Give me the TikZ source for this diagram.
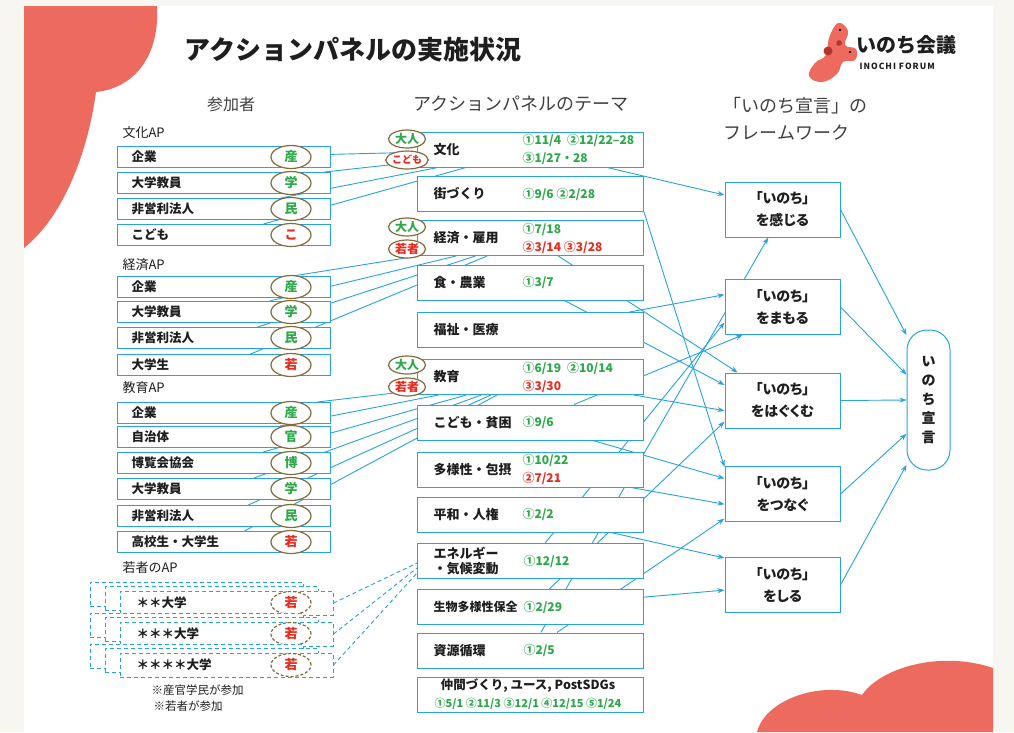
\documentclass[tikz,border=0pt]{standalone}
\usepackage{fontspec}
\setmainfont{Noto Sans CJK JP}
\newfontfamily\jpp{Noto Sans CJK JP}[RawFeature=+palt]
\usetikzlibrary{calc,arrows.meta,backgrounds,shapes.geometric}
\definecolor{wire}{HTML}{29A3DC}
\definecolor{grn}{HTML}{2EA84A}
\definecolor{rd}{HTML}{E82A1F}
\definecolor{tagline}{HTML}{826B3C}
\definecolor{coral}{HTML}{EC6A5E}
\definecolor{coraldk}{HTML}{B3362E}
\definecolor{paper}{HTML}{F7F6F1}
\definecolor{ink}{HTML}{1E1E1E}
\tikzset{
  pbox/.style={draw=wire, line width=1pt, fill=white, minimum width=213pt, minimum height=21pt, inner sep=0pt},
  ybox/.style={pbox, minimum height=24pt, dash pattern=on 4pt off 3pt},
  tag/.style={ellipse, draw=tagline, line width=1.2pt, fill=white, minimum width=40pt, minimum height=23pt, inner sep=0pt, font=\bfseries\fontsize{13}{13}\selectfont},
  who/.style={ellipse, draw=tagline, line width=1.2pt, fill=white, minimum width=37pt, minimum height=18pt, inner sep=0pt, font=\bfseries\fontsize{12}{12}\selectfont},
  theme/.style={draw=wire, line width=1pt, fill=white, minimum width=226pt, minimum height=35pt, inner sep=0pt},
  frame/.style={draw=wire, line width=1pt, fill=white, minimum width=115pt, minimum height=55pt, align=center, font=\jpp\bfseries\fontsize{14}{22}\selectfont, text=ink},
  decl/.style={draw=wire, line width=1pt, fill=white, rounded corners=20pt, minimum width=43pt, minimum height=140pt, align=center, font=\bfseries\fontsize{14}{19}\selectfont, text=ink},
  link/.style={draw=wire, line width=0.9pt},
  arr/.style={link, -{Stealth[length=7pt,width=5pt]}},
  lab/.style={anchor=west, text=ink, font=\bfseries\fontsize{12.5}{12.5}\selectfont},
  tlab/.style={anchor=west, text=ink, align=left, font=\bfseries\fontsize{13}{15}\selectfont},
  date/.style={anchor=west, text=grn, align=left, font=\bfseries\fontsize{12}{18}\selectfont},
  sub/.style={anchor=west, text=ink, font=\fontsize{13}{13}\selectfont},
  hdr/.style={text=ink!85, font=\fontsize{18}{18}\selectfont},
}

\begin{document}
\begin{tikzpicture}[x=1pt,y=-1pt]
  \useasboundingbox (0,0) rectangle (1014,732);
  \begin{scope}[on background layer]
    \fill[paper] (0,0) rectangle (1014,732);
    \fill[white] (24,6) rectangle (993,732);
    % corner blobs
    \fill[coral] (24,6) -- (157,6) .. controls (160,55) and (135,88) .. (96,92)
      .. controls (88,150) and (65,215) .. (24,248) -- cycle;
    \fill[coral] (757,732) .. controls (765,700) and (820,680) .. (862,695)
      .. controls (880,668) and (940,650) .. (993,668) -- (993,732) -- cycle;
  \end{scope}

  % logo
  \fill[coral] plot[smooth cycle, tension=0.7] coordinates {(838,23) (848,31) (845,45)
    (856,49) (855,60) (843,62) (837,74) (822,82) (809,76) (815,63) (826,55) (829,38)};
  \fill[coraldk] (828,51) circle (4.5);
  \fill[coraldk] (839,43) circle (2.8);
  \fill[black] (840,30) circle (1.1);
  \fill[black] (850,52) circle (1.1);
  \node[anchor=west, text=ink, font=\bfseries\fontsize{20}{20}\selectfont] (logo) at (853,45) {いのち会議};
  \node[anchor=west, text=ink, font=\bfseries\fontsize{8.5}{8.5}\selectfont\addfontfeature{LetterSpace=12}] (forum) at (856,66) {INOCHI FORUM};

  \node[anchor=west, text=ink, font=\bfseries\fontsize{26}{26}\selectfont] (title) at (181,50) {アクションパネルの実施状況};

  \node[hdr, font=\fontsize{16}{16}\selectfont] (hdrA) at (231,104) {参加者};
  \node[hdr] (hdrB) at (521,104) {アクションパネルのテーマ};
  \node[hdr, anchor=west] (hdrC) at (720,106) {「いのち宣言」の};
  \node[hdr, anchor=west] (hdrD) at (720,133) {フレームワーク};

  % participants
  \node[sub] (apA) at (119,133) {文化AP};
  \foreach \i/\yy/\txt/\mk/\col in {1/157/企業/産/grn, 2/183/大学教員/学/grn,
      3/209/非営利法人/民/grn, 4/235/こども/こ/rd} {
    \node[pbox] (bA\i) at (224,\yy) {};
    \node[lab] at (128,\yy) {\txt};
    \node[tag, text=\col] at (291,\yy) {\mk};
  }
  \node[sub] (apB) at (119,265) {経済AP};
  \foreach \i/\yy/\txt/\mk/\col in {1/287/企業/産/grn, 2/312/大学教員/学/grn,
      3/338/非営利法人/民/grn, 4/365/大学生/若/rd} {
    \node[pbox] (bB\i) at (224,\yy) {};
    \node[lab] at (128,\yy) {\txt};
    \node[tag, text=\col] at (291,\yy) {\mk};
  }
  \node[sub] (apC) at (119,388) {教育AP};
  \foreach \i/\yy/\txt/\mk/\col in {1/413/企業/産/grn, 2/437/自治体/官/grn,
      3/463/博覧会協会/博/grn, 4/489/大学教員/学/grn, 5/516/非営利法人/民/grn,
      6/542/高校生・大学生/若/rd} {
    \node[pbox] (bC\i) at (224,\yy) {};
    \node[lab] at (128,\yy) {\txt};
    \node[tag, text=\col] at (291,\yy) {\mk};
  }
  \node[sub] (apD) at (119,568) {若者のAP};
  \foreach \i/\yy/\txt in {1/603/＊＊大学, 2/634/＊＊＊大学, 3/665/＊＊＊＊大学} {
    \node[ybox] (ya\i) at (196.5,\yy-9) {};
    \node[ybox] (yb\i) at (211.5,\yy-4.5) {};
    \node[ybox] (yk\i) at (226.5,\yy) {};
    \node[lab] at (133,\yy) {\txt};
    \node[tag, dash pattern=on 3pt off 2pt, text=rd] at (291,\yy) {若};
  }
  \node[anchor=west, text=ink, font=\fontsize{11.5}{11.5}\selectfont] (noteA) at (148,690) {※産官学民が参加};
  \node[anchor=west, text=ink, font=\fontsize{11.5}{11.5}\selectfont] (noteB) at (150,706) {※若者が参加};

  % themes
  \foreach \nm/\yy in {bunka/149.5, machi/194, keizai/238, shoku/282.5, fukushi/330,
      kyoiku/377, kodomo/422.5, tayo/469.5, heiwa/514.5, energy/561, bio/607,
      shigen/650.5, nakama/695}
    \node[theme] (\nm) at (530.5,\yy) {};
  \node[tlab] at (430,149.5) {文化};
  \node[date] at (519,149.5) {①11/4\enspace②12/22–28\\③1/27・28};
  \node[tlab] at (430,194) {街づくり};
  \node[date] at (519,194) {①9/6 ②2/28};
  \node[tlab] at (430,238) {経済・雇用};
  \node[date] at (519,238) {①7/18\\\textcolor{rd}{②3/14 ③3/28}};
  \node[tlab] at (430,282.5) {食・農業};
  \node[date] at (519,282.5) {①3/7};
  \node[tlab] at (430,330) {福祉・医療};
  \node[tlab] at (430,377) {教育};
  \node[date] at (519,377) {①6/19\enspace②10/14\\\textcolor{rd}{③3/30}};
  \node[tlab] at (430,422.5) {こども・貧困};
  \node[date] at (519,422.5) {①9/6};
  \node[tlab] at (430,469.5) {多様性・包摂};
  \node[date] at (519,469.5) {①10/22\\\textcolor{rd}{②7/21}};
  \node[tlab] at (430,514.5) {平和・人権};
  \node[date] at (519,514.5) {①2/2};
  \node[tlab] at (430,561) {エネルギー\\・気候変動};
  \node[date] at (520,561) {①12/12};
  \node[tlab, font=\bfseries\fontsize{12}{12}\selectfont] at (430,607) {生物多様性保全};
  \node[date] at (520,607) {①2/29};
  \node[tlab] at (430,650.5) {資源循環};
  \node[date] at (520,650.5) {①2/5};
  \node[text=ink, font=\bfseries\fontsize{12.5}{12.5}\selectfont] at (528,686) {仲間づくり, ユース, PostSDGs};
  \node[text=grn, font=\bfseries\fontsize{11}{11}\selectfont] at (528,704) {①5/1 ②11/3 ③12/1 ④12/15 ⑤1/24};

  \node[who, text=grn] (wA1) at (407,139) {大人};
  \node[who, text=rd, font=\bfseries\fontsize{10}{10}\selectfont] (wA2) at (407,160) {こども};
  \node[who, text=grn] (wB1) at (407,227) {大人};
  \node[who, text=rd] (wB2) at (407,249) {若者};
  \node[who, text=grn] (wC1) at (407,365) {大人};
  \node[who, text=rd] (wC2) at (407,387) {若者};

  % framework
  \node[frame] (kanjiru) at (782.5,209.5) {「いのち」\\を感じる};
  \node[frame] (mamoru) at (782.5,307) {「いのち」\\をまもる};
  \node[frame] (hagukumu) at (782.5,400.5) {「いのち」\\をはぐくむ};
  \node[frame] (tsunagu) at (782.5,494) {「いのち」\\をつなぐ};
  \node[frame] (shiru) at (782.5,585) {「いのち」\\をしる};
  \node[decl] (sengen) at (928.5,400) {い\\の\\ち\\宣\\言};

  \begin{scope}[on background layer]
    \foreach \i in {1,...,4} \draw[link] (bA\i) -- (bunka);
    \foreach \i in {1,...,4} \draw[link] (bB\i) -- (keizai);
    \foreach \i in {1,...,6} \draw[link] (bC\i) -- (kyoiku);
    \draw[arr] (bunka) -- (kanjiru.166);
    \draw[arr] (machi.south east) -- (tsunagu.155);
    \draw[arr] (keizai) -- (hagukumu.148);
    \draw[arr] (shoku) -- (hagukumu.165);
    \draw[arr] (fukushi) -- (mamoru.168);
    \draw[arr] (kyoiku) -- (hagukumu.190);
    \draw[arr] (kodomo) -- (mamoru.215);
    \draw[arr] (kodomo) -- (tsunagu.165);
    \draw[arr] (tayo) -- (tsunagu.190);
    \draw[arr] (heiwa) -- (shiru.155);
    \draw[arr] (energy) -- (mamoru.195);
    \draw[arr] (bio) -- (shiru.185);
    \draw[arr] (bio) -- (hagukumu.200);
    \draw[arr] (shigen) -- (tsunagu.203);
    \draw[arr] (shigen) -- (kanjiru.243);
  \end{scope}

  \draw[link, dash pattern=on 4pt off 3pt] (yk1.east) -- ($(energy.west)+(0,2)$);
  \draw[link, dash pattern=on 4pt off 3pt] (yk2.east) -- ($(energy.west)+(0,7)$);
  \draw[link, dash pattern=on 4pt off 3pt] (yk3.east) -- ($(energy.west)+(0,12)$);

  \draw[arr] (kanjiru.east) -- ($(sengen.north west)!0.04!(sengen.south west)$);
  \draw[arr] (mamoru.east) -- ($(sengen.north west)!0.32!(sengen.south west)$);
  \draw[arr] (hagukumu.east) -- (sengen.west);
  \draw[arr] (tsunagu.east) -- ($(sengen.north west)!0.74!(sengen.south west)$);
  \draw[arr] (shiru.east) -- ($(sengen.north west)!0.96!(sengen.south west)$);
\end{tikzpicture}
\end{document}
